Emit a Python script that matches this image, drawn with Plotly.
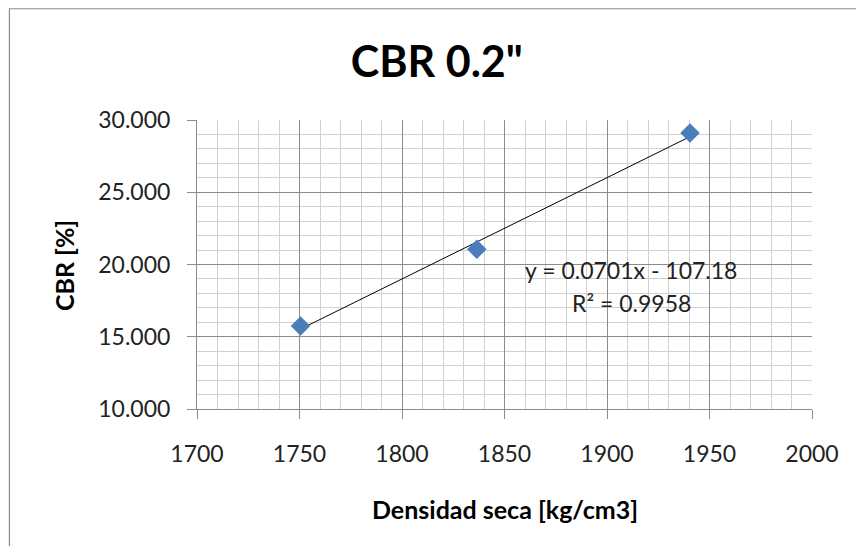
import numpy as np
import plotly.graph_objects as go

# --- DATA ---
densidad = [1750.5, 1836.5, 1940.5]
cbr = [15.75, 21.05, 29.1]

# trendline as reported on the chart
slope = 0.0701
intercept = -107.18
eq_text = "y = 0.0701x - 107.18"
r2_text = "R² = 0.9958"

x_ticks = [1700, 1750, 1800, 1850, 1900, 1950, 2000]
y_ticks = [10, 15, 20, 25, 30]

FONT = "Lato, 'Open Sans', sans-serif"
GRID_MAJOR = "#8c8c8c"
GRID_MINOR = "#d0d0d0"
TXT = "#222222"

fig = go.Figure()

# linear trendline across the data span
tx = np.array([min(densidad), max(densidad)])
fig.add_trace(go.Scatter(
    x=tx, y=slope * tx + intercept,
    mode="lines",
    line=dict(color="black", width=1),
    hoverinfo="skip",
))

fig.add_trace(go.Scatter(
    x=densidad, y=cbr,
    mode="markers",
    marker=dict(symbol="diamond", size=15, color="#4a7ebb",
                line=dict(color="#4a7ebb", width=0)),
))

fig.add_annotation(x=1911.6, y=19.6, xref="x", yref="y", text=eq_text,
                   xanchor="center", yanchor="middle", showarrow=False,
                   font=dict(family=FONT, size=23, color=TXT))
fig.add_annotation(x=1912, y=17.35, xref="x", yref="y", text=r2_text,
                   xanchor="center", yanchor="middle", showarrow=False,
                   font=dict(family=FONT, size=23, color=TXT))

# axis titles
fig.add_annotation(x=0.5, y=-0.345, xref="paper", yref="paper",
                   text="<b>Densidad seca [kg/cm3]</b>", showarrow=False,
                   xanchor="center", yanchor="middle",
                   font=dict(family=FONT, size=25, color="black"))
fig.add_annotation(x=-0.216, y=0.495, xref="paper", yref="paper",
                   text="<b>CBR [%]</b>", textangle=-90, showarrow=False,
                   xanchor="center", yanchor="middle",
                   font=dict(family=FONT, size=25, color="black"))

# outer chart border (only left/top visible in the crop)
fig.add_shape(type="rect", xref="paper", yref="paper",
              x0=-0.305, x1=1.2, y0=-0.6, y1=1.385,
              line=dict(color="#8a8a8a", width=1.2), layer="below")

fig.update_layout(
    width=856, height=538,
    margin=dict(l=188.5, r=52.3, t=112, b=136.7),
    paper_bgcolor="white", plot_bgcolor="white",
    showlegend=False,
    title=dict(text="<b>CBR 0.2\"</b>", x=0.501, xanchor="center", xref="container",
               y=0.9, yanchor="middle",
               font=dict(family=FONT, size=43, color="black")),
    xaxis=dict(
        range=[1700, 2000], tickvals=x_ticks,
        ticks="outside", ticklen=9, tickcolor=GRID_MAJOR,
        showline=True, linecolor=GRID_MAJOR, linewidth=1,
        showgrid=True, gridcolor=GRID_MAJOR, gridwidth=1,
        minor=dict(dtick=10, showgrid=True, gridcolor=GRID_MINOR, gridwidth=1),
        zeroline=False,
        tickfont=dict(family=FONT, size=23, color=TXT),
        ticklabelstandoff=15,
    ),
    yaxis=dict(
        range=[10, 30], tickvals=y_ticks, tickformat=".3f",
        ticks="outside", ticklen=9, tickcolor=GRID_MAJOR,
        showline=True, linecolor=GRID_MAJOR, linewidth=1,
        showgrid=True, gridcolor=GRID_MAJOR, gridwidth=1,
        minor=dict(dtick=1, showgrid=True, gridcolor=GRID_MINOR, gridwidth=1),
        zeroline=False,
        tickfont=dict(family=FONT, size=23, color=TXT),
        ticklabelstandoff=12,
    ),
)

fig.write_html("out.html")
